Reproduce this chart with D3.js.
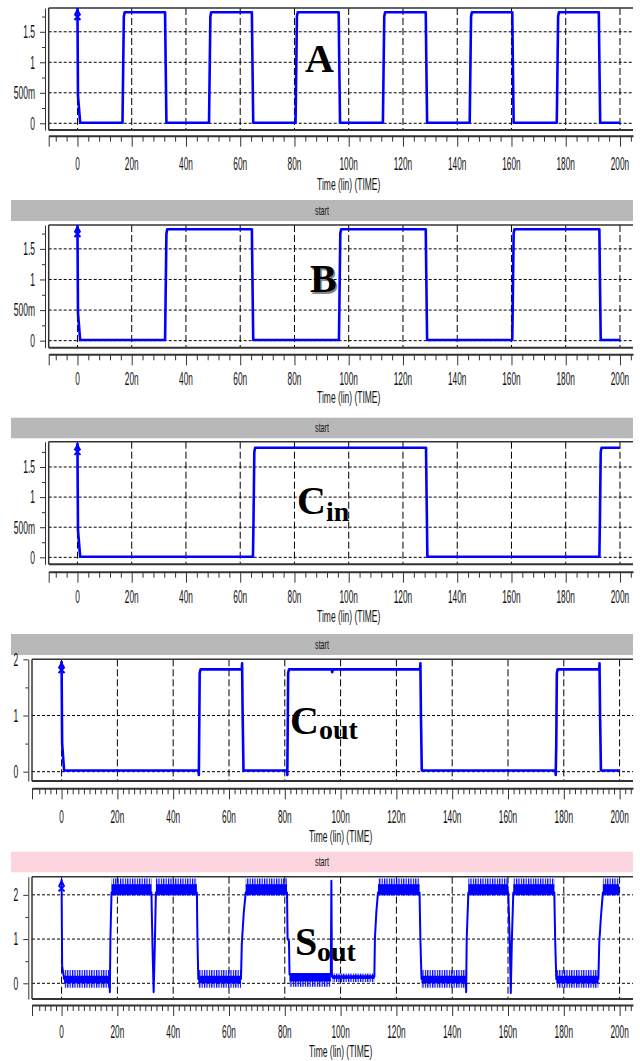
<!DOCTYPE html>
<html>
<head>
<meta charset="utf-8">
<script src="https://d3js.org/d3.v7.min.js"></script>
<style>
body { margin: 0; background: #fff; }
</style>
</head>
<body>
<svg id="chart" width="640" height="1061"></svg>
<script>
// ---- data (time in ns, values in V) ----
const timeTicks = [0, 20, 40, 60, 80, 100, 120, 140, 160, 180, 200];
const timeLabels = ["0", "20n", "40n", "60n", "80n", "100n", "120n", "140n", "160n", "180n", "200n"];

const voltTicks3 = [0, 0.5, 1, 1.5];
const voltLabels3 = ["0", "500m", "1", "1.5"];
const voltMinor3 = [0.25, 0.75, 1.25, 1.75];
const voltTicks2 = [0, 1, 2];
const voltLabels2 = ["0", "1", "2"];
const voltMinor2 = [0.5, 1.5];

const sigA = [
  [0, 1.89], [0.2, 0.45], [1.0, 0.01], [16.6, 0.01], [16.8, 0.7], [17.1, 1.75], [17.4, 1.82],
  [32.3, 1.82], [32.5, 1.05], [32.8, 0.01], [48.5, 0.01], [48.7, 0.7], [49.0, 1.75], [49.3, 1.82],
  [64.3, 1.82], [64.5, 1.05], [64.8, 0.01], [80.4, 0.01], [80.6, 0.7], [80.9, 1.75], [81.2, 1.82],
  [96.3, 1.82], [96.5, 1.05], [96.8, 0.01], [112.6, 0.01], [112.8, 0.7], [113.1, 1.75], [113.4, 1.82],
  [128.4, 1.82], [128.6, 1.05], [128.9, 0.01], [144.6, 0.01], [144.8, 0.7], [145.1, 1.75], [145.4, 1.82],
  [160.3, 1.82], [160.5, 1.05], [160.8, 0.01], [176.7, 0.01], [176.9, 0.7], [177.2, 1.75], [177.5, 1.82],
  [192.2, 1.82], [192.4, 1.05], [192.7, 0.01], [200, 0.01]
];

const sigB = [
  [0, 1.89], [0.2, 0.45], [1.0, 0.01], [32.3, 0.01], [32.5, 0.7], [32.8, 1.75], [33.1, 1.82],
  [64.3, 1.82], [64.5, 1.05], [64.8, 0.01], [96.4, 0.01], [96.6, 0.7], [96.9, 1.75], [97.2, 1.82],
  [128.4, 1.82], [128.6, 1.05], [128.9, 0.01], [160.3, 0.01], [160.5, 0.7], [160.8, 1.75], [161.1, 1.82],
  [192.4, 1.82], [192.6, 1.05], [192.9, 0.01], [200, 0.01]
];

const sigCin = [
  [0, 1.9], [0.2, 0.45], [1.0, 0.01], [64.7, 0.01], [64.9, 0.6], [65.2, 1.75], [65.5, 1.82],
  [128.5, 1.82], [128.7, 1.05], [129.0, 0.01], [192.4, 0.01], [192.6, 0.6], [192.9, 1.75], [193.2, 1.82],
  [200, 1.82]
];

const sigCout = [
  [0, 1.97], [0.2, 0.5], [0.9, 0.02], [49.1, 0.02], [49.2, -0.06], [49.3, 0.5], [49.5, 1.75], [49.8, 1.82],
  [64.6, 1.82], [64.7, 1.93], [64.9, 1.0], [65.2, 0.02], [80.8, 0.02], [80.9, -0.06], [81.0, 0.5], [81.2, 1.75], [81.5, 1.82],
  [96.8, 1.82], [97.0, 1.77], [97.2, 1.82], [128.5, 1.82], [128.6, 1.93], [128.8, 1.0], [129.1, 0.02],
  [177.0, 0.02], [177.1, -0.06], [177.3, 0.5], [177.5, 1.75], [177.8, 1.82],
  [192.7, 1.82], [192.8, 1.93], [193.0, 1.0], [193.3, 0.02], [200, 0.02]
];

const sigSout = [
  [0, 2.35], [0.2, 0.4], [0.9, 0.1], [17.2, 0.1], [17.3, -0.2], [17.5, 1.0], [17.9, 2.05],
  [32.2, 2.05], [32.6, 0.8], [33.0, -0.2], [33.4, 0.8], [33.8, 2.05],
  [48.5, 2.05], [48.7, 1.0], [49.0, 0.1],
  [64.3, 0.1], [64.6, 0.9], [65.3, 1.6], [66.0, 2.05],
  [80.8, 2.05], [81.0, 1.0], [81.5, 0.95], [81.7, 0.2],
  [96.5, 0.2], [96.7, 2.32], [96.9, 0.15],
  [112.1, 0.15], [112.3, 1.0], [112.8, 1.6], [113.4, 2.05],
  [128.3, 2.05], [128.6, 1.0], [129.0, 0.1],
  [144.9, 0.1], [145.0, -0.2], [145.2, 1.0], [145.8, 2.05],
  [160.1, 2.05], [160.6, 1.0], [161.0, -0.22], [161.4, 1.0], [161.9, 2.05],
  [176.6, 2.05], [176.9, 1.0], [177.3, 0.1],
  [192.4, 0.1], [192.7, 0.9], [193.3, 1.5], [194.0, 2.05],
  [199.8, 2.05]
];

// ripple bands of Sout: [t0, t1, solidLo, solidHi, spikeLo, spikeHi]
const soutLowBands = [
  [0.9, 17.2, 0.0, 0.17, -0.1, 0.3],
  [49.0, 64.3, 0.0, 0.17, -0.1, 0.3],
  [81.7, 96.5, 0.04, 0.23, -0.08, 0.23],
  [97.0, 112.1, 0.1, 0.18, 0.03, 0.22],
  [129.0, 144.9, 0.0, 0.17, -0.1, 0.3],
  [177.3, 192.4, 0.0, 0.17, -0.1, 0.3]
];
const soutHighBands = [
  [17.9, 32.2, 2.0, 2.24, 1.98, 2.37],
  [33.8, 48.5, 2.0, 2.24, 1.98, 2.37],
  [66.0, 80.8, 2.0, 2.24, 1.98, 2.37],
  [113.4, 128.3, 2.0, 2.24, 1.98, 2.37],
  [145.8, 160.1, 2.0, 2.24, 1.98, 2.37],
  [161.9, 176.6, 2.0, 2.24, 1.98, 2.37],
  [194.0, 199.8, 2.0, 2.24, 1.98, 2.37]
];

// ---- drawing ----
const svg = d3.select('#chart');
const blue = '#0000ff';
const plotRight = 633;
const timeDomain = [-10.6, 204.8];

svg.append('defs').append('pattern')
  .attr('id', 'comb').attr('patternUnits', 'userSpaceOnUse')
  .attr('width', 2.4).attr('height', 40)
  .append('rect').attr('width', 1.2).attr('height', 40).attr('fill', blue);

function narrow(g, x, y, str, size, sx, anchor) {
  return g.append('text')
    .attr('transform', 'translate(' + x + ',' + y + ') scale(' + sx + ',1)')
    .attr('text-anchor', anchor)
    .attr('dominant-baseline', 'central')
    .style('font-family', '"Liberation Sans", Arial, sans-serif')
    .style('font-size', size + 'px')
    .attr('fill', '#111')
    .text(str);
}

function bigLabel(g, x, y, main, sub, subX, subY, shadow) {
  const st = s => s.style('font-family', '"Liberation Serif", "Times New Roman", serif')
    .style('font-weight', 'bold');
  if (shadow) {
    st(g.append('text').attr('x', x + 1.5).attr('y', y + 1.5).attr('fill', '#888')
      .style('font-size', '40px').text(main));
  }
  st(g.append('text').attr('x', x).attr('y', y).attr('fill', '#000')
    .style('font-size', '40px').text(main));
  if (sub) {
    st(g.append('text').attr('x', subX).attr('y', subY).attr('fill', '#000')
      .style('font-size', '28px').text(sub));
  }
}

const panels = [
  { data: sigA, top: 8, bottom: 130, left: 48.7, yAxisX: 45, axisY: 135.7, tickLabY: 163.3, timeY: 184,
    bar: null, yDom: [-0.11, 1.89], yTicks: voltTicks3, yLabels: voltLabels3, yMinor: voltMinor3, xMinor: 4,
    label: ['A', '', 305, 72, 0, 0, false] },
  { data: sigB, top: 225, bottom: 347.7, left: 48.7, yAxisX: 45, axisY: 354.3, tickLabY: 378.3, timeY: 397.5,
    bar: [200, 221, '#b8b8b8'], yDom: [-0.115, 1.89], yTicks: voltTicks3, yLabels: voltLabels3, yMinor: voltMinor3, xMinor: 4,
    label: ['B', '', 310, 292, 0, 0, true] },
  { data: sigCin, top: 441.7, bottom: 564.3, left: 48.7, yAxisX: 45, axisY: 571.7, tickLabY: 596.7, timeY: 616.7,
    bar: [417.7, 438.3, '#b8b8b8'], yDom: [-0.116, 1.92], yTicks: voltTicks3, yLabels: voltLabels3, yMinor: voltMinor3, xMinor: 4,
    label: ['C', 'in', 297, 514, 326, 521, false] },
  { data: sigCout, top: 659.3, bottom: 781, left: 32, yAxisX: 28.3, axisY: 788.3, tickLabY: 816.7, timeY: 836.7,
    bar: [634, 655, '#b8b8b8'], yDom: [-0.166, 2.0], yTicks: voltTicks2, yLabels: voltLabels2, yMinor: voltMinor2, xMinor: 2,
    label: ['C', 'out', 290, 734, 319, 739, false] },
  { data: sigSout, top: 876.7, bottom: 999, left: 32, yAxisX: 28.3, axisY: 1005, tickLabY: 1031.7, timeY: 1051.7,
    bar: [851.7, 872.3, '#fdd5df'], yDom: [-0.355, 2.41], yTicks: voltTicks2, yLabels: voltLabels2, yMinor: voltMinor2, xMinor: 2,
    label: ['S', 'out', 295, 955, 317, 961, false], bands: true }
];

panels.forEach(p => {
  const g = svg.append('g');
  const x = d3.scaleLinear().domain(timeDomain).range([p.left, plotRight]);
  const y = d3.scaleLinear().domain(p.yDom).range([p.bottom, p.top]);

  // "start" bar
  if (p.bar) {
    g.append('rect').attr('x', 11).attr('y', p.bar[0])
      .attr('width', plotRight - 11).attr('height', p.bar[1] - p.bar[0])
      .attr('fill', p.bar[2]);
    narrow(g, (11 + plotRight) / 2, (p.bar[0] + p.bar[1]) / 2, 'start', 13, 0.55, 'middle');
  }

  // grid
  g.selectAll('line.hg').data(p.yTicks.filter(v => y(v) > p.top + 1)).join('line')
    .attr('class', 'hg')
    .attr('x1', p.left).attr('x2', plotRight)
    .attr('y1', d => y(d)).attr('y2', d => y(d))
    .attr('stroke', '#000').attr('stroke-width', 1).attr('stroke-dasharray', '3,2');
  g.selectAll('line.vg').data(timeTicks).join('line')
    .attr('class', 'vg')
    .attr('x1', d => x(d)).attr('x2', d => x(d))
    .attr('y1', p.top).attr('y2', p.bottom)
    .attr('stroke', '#000').attr('stroke-width', 1).attr('stroke-dasharray', '7,3');

  // plot border
  g.append('line').attr('x1', p.left).attr('x2', plotRight).attr('y1', p.top).attr('y2', p.top)
    .attr('stroke', '#333').attr('stroke-width', 1.5);
  g.append('line').attr('x1', p.left).attr('x2', p.left).attr('y1', p.top).attr('y2', p.bottom)
    .attr('stroke', '#333').attr('stroke-width', 1.5);
  g.append('line').attr('x1', p.left).attr('x2', plotRight).attr('y1', p.bottom).attr('y2', p.bottom)
    .attr('stroke', '#333').attr('stroke-width', 2);

  // x axis
  const minorT = d3.range(-8, 205, p.xMinor).filter(v => v % 20 !== 0);
  g.append('g').attr('transform', 'translate(0,' + p.axisY + ')').attr('color', '#333')
    .call(d3.axisBottom(x).tickValues(minorT).tickSize(6).tickSizeOuter(0).tickFormat(''))
    .call(a => a.select('.domain').attr('stroke-width', 2));
  g.append('g').attr('transform', 'translate(0,' + p.axisY + ')').attr('color', '#333')
    .call(d3.axisBottom(x).tickValues(timeTicks.concat([timeDomain[0]])).tickSize(11).tickSizeOuter(0).tickFormat(''))
    .call(a => a.select('.domain').remove());
  timeTicks.forEach((t, i) => narrow(g, x(t), p.tickLabY, timeLabels[i], 18, 0.46, 'middle'));
  narrow(g, x(100), p.timeY, 'Time (lin) (TIME)', 16, 0.53, 'middle');

  // y axis
  g.append('g').attr('transform', 'translate(' + p.yAxisX + ',0)').attr('color', '#333')
    .call(d3.axisLeft(y).tickValues(p.yMinor).tickSize(3).tickSizeOuter(0).tickFormat(''));
  g.append('g').attr('transform', 'translate(' + p.yAxisX + ',0)').attr('color', '#333')
    .call(d3.axisLeft(y).tickValues(p.yTicks).tickSize(5).tickSizeOuter(0).tickFormat(''))
    .call(a => a.select('.domain').remove());
  p.yTicks.forEach((v, i) => narrow(g, p.yAxisX - 10, y(v), p.yLabels[i], 18, 0.47, 'end'));

  // ripple bands
  if (p.bands) {
    const bands = soutLowBands.concat(soutHighBands);
    g.selectAll('rect.spk').data(bands).join('rect')
      .attr('class', 'spk')
      .attr('x', d => x(d[0])).attr('width', d => x(d[1]) - x(d[0]))
      .attr('y', d => y(d[5])).attr('height', d => y(d[4]) - y(d[5]))
      .attr('fill', 'url(#comb)');
    g.selectAll('rect.sol').data(bands).join('rect')
      .attr('class', 'sol')
      .attr('x', d => x(d[0])).attr('width', d => x(d[1]) - x(d[0]))
      .attr('y', d => y(d[3])).attr('height', d => y(d[2]) - y(d[3]))
      .attr('fill', blue);
  }

  // trace
  const line = d3.line().x(d => x(d[0])).y(d => y(d[1]));
  g.append('path').datum(p.data).attr('d', line)
    .attr('fill', 'none').attr('stroke', blue)
    .attr('stroke-width', p.bands ? 2 : 2.6).attr('stroke-linejoin', 'round');

  // start cursor marker
  const mx = x(p.data[0][0]), my = y(p.data[0][1]);
  g.append('path')
    .attr('d', 'M' + mx + ',' + my + 'L' + (mx - 3.2) + ',' + (my + 6) + 'L' + (mx + 3.2) + ',' + (my + 6) + 'Z')
    .attr('fill', blue);
  g.append('path')
    .attr('d', 'M' + (mx - 3) + ',' + (my + 6) + 'L' + (mx + 3) + ',' + (my + 12) +
               'M' + (mx + 3) + ',' + (my + 6) + 'L' + (mx - 3) + ',' + (my + 12))
    .attr('stroke', blue).attr('stroke-width', 2).attr('fill', 'none');

  // signal name
  const L = p.label;
  bigLabel(g, L[2], L[3], L[0], L[1], L[4], L[5], L[6]);
});
</script>
</body>
</html>
